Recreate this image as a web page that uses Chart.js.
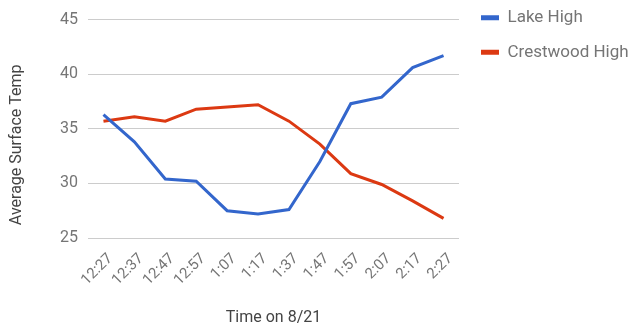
<!DOCTYPE html>
<html>
<head>
<meta charset="utf-8">
<script src="https://cdn.jsdelivr.net/npm/chart.js@4.4.1/dist/chart.umd.min.js"></script>
<style>
  html, body { margin: 0; padding: 0; background: #ffffff; }
  #wrap { width: 629px; height: 330px; position: relative; }
</style>
</head>
<body>
<div id="wrap"><canvas id="c" width="629" height="330"></canvas></div>
<script>
const categories = ["12:27", "12:37", "12:47", "12:57", "1:07", "1:17", "1:37", "1:47", "1:57", "2:07", "2:17", "2:27"];
const lakeHigh = [36.3, 33.8, 30.4, 30.2, 27.5, 27.2, 27.6, 32.0, 37.3, 37.9, 40.6, 41.7];
const crestwoodHigh = [35.7, 36.1, 35.7, 36.8, 37.0, 37.2, 35.7, 33.6, 30.9, 29.9, 28.4, 26.8];
const yTicks = [25, 30, 35, 40, 45];
const seriesNames = ["Lake High", "Crestwood High"];
const xTitle = "Time on 8/21";
const yTitle = "Average Surface Temp";

const FONT = "Roboto, 'Noto Sans', Arial, sans-serif";

const legendPlace = {
  id: 'legendPlace',
  afterLayout(chart) {
    const l = chart.legend;
    if (!l) return;
    const pad = l.options.labels.padding;
    const dx = 481 - (l.left + pad);
    const dy = 9.2 - (l.top + pad);
    l.left += dx; l.right += dx;
    l.top += dy; l.bottom += dy;
  }
};

new Chart(document.getElementById('c'), {
  type: 'line',
  data: {
    labels: categories,
    datasets: [
      { label: seriesNames[0], data: lakeHigh, borderColor: '#3366cc', backgroundColor: '#3366cc',
        borderWidth: 3, pointRadius: 0, tension: 0, fill: false },
      { label: seriesNames[1], data: crestwoodHigh, borderColor: '#dc3912', backgroundColor: '#dc3912',
        borderWidth: 3, pointRadius: 0, tension: 0, fill: false }
    ]
  },
  options: {
    responsive: false,
    animation: false,
    devicePixelRatio: 1,
    layout: { padding: { top: 18.5, left: 0, right: 0, bottom: 0 } },
    plugins: {
      tooltip: { enabled: false },
      legend: {
        position: 'right',
        align: 'start',
        maxWidth: 170,
        labels: {
          boxWidth: 18,
          boxHeight: 5,
          padding: 17.6,
          color: '#757575',
          font: { family: FONT, size: 17 },
          generateLabels(chart) {
            const items = Chart.defaults.plugins.legend.labels.generateLabels(chart);
            items.forEach(it => { it.lineWidth = 0; });
            return items;
          }
        }
      }
    },
    scales: {
      x: {
        type: 'category',
        offset: true,
        grid: { display: false, drawTicks: false },
        border: { display: false },
        ticks: {
          minRotation: 45, maxRotation: 45,
          autoSkip: false,
          padding: 12,
          labelOffset: 7,
          color: '#757575',
          font: { family: FONT, size: 15 }
        },
        title: {
          display: true, text: xTitle, color: '#444444',
          font: { family: FONT, size: 16 },
          padding: { top: 0, bottom: 2 }
        },
        afterFit(scale) { scale.height = 92; }
      },
      y: {
        min: 25, max: 45,
        afterBuildTicks(scale) { scale.ticks = yTicks.map(v => ({ value: v })); },
        grid: { color: '#cccccc', lineWidth: 1, drawTicks: false },
        border: { display: false },
        ticks: {
          padding: 10,
          color: '#757575',
          font: { family: FONT, size: 16 }
        },
        title: {
          display: true, text: yTitle, color: '#444444',
          font: { family: FONT, size: 16 },
          padding: { top: 7, bottom: 0 }
        },
        afterFit(scale) {
          scale.width = 88;
          if (!scale._titleShifted) {
            const orig = scale.drawTitle;
            scale.drawTitle = function () {
              this.ctx.save();
              this.ctx.translate(0, 16);
              orig.call(this);
              this.ctx.restore();
            };
            scale._titleShifted = true;
          }
        }
      }
    }
  },
  plugins: [legendPlace]
});
</script>
</body>
</html>
